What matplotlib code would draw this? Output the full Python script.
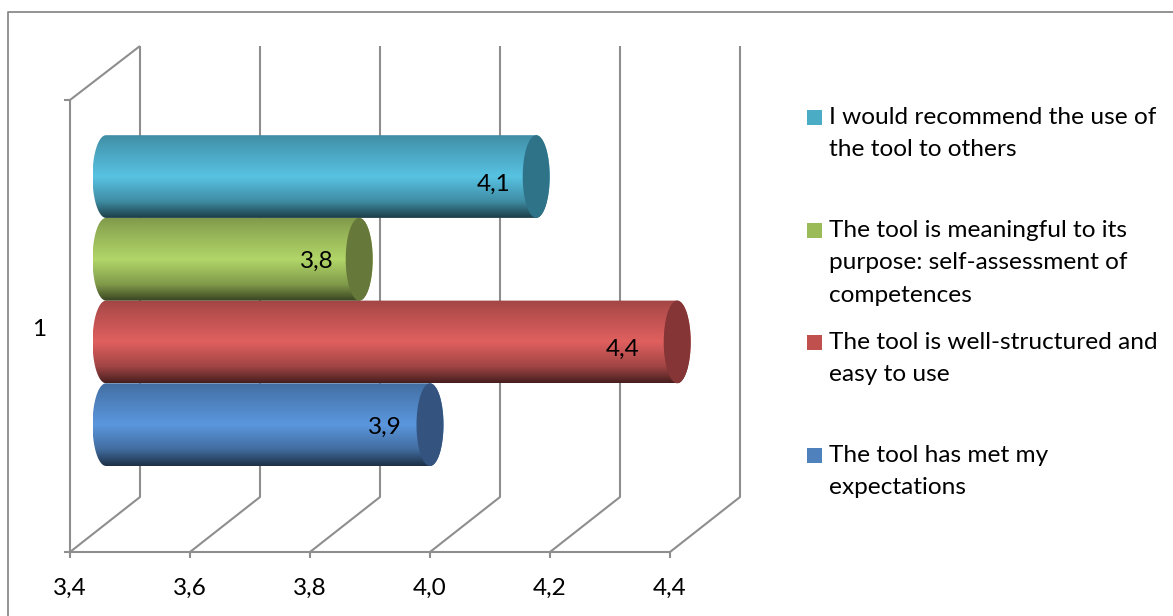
import matplotlib
matplotlib.use('Agg')
import matplotlib.pyplot as plt
import numpy as np
from matplotlib.colors import LinearSegmentedColormap
from matplotlib.patches import Ellipse, Polygon, Rectangle

plt.rcParams['font.family'] = ['Lato', 'DejaVu Sans']

# Data, bottom bar first
series = ['The tool has met my\nexpectations',
          'The tool is well-structured and\neasy to use',
          'The tool is meaningful to its\npurpose: self-assessment of\ncompetences',
          'I would recommend the use of\nthe tool to others']
values = [3.94, 4.352, 3.822, 4.117]
value_labels = ['3,9', '4,4', '3,8', '4,1']
x_ticks = [3.4, 3.6, 3.8, 4.0, 4.2, 4.4]
x_tick_labels = ['3,4', '3,6', '3,8', '4,0', '4,2', '4,4']
category_label = '1'

# Look
body_colors = ['#5b97de', '#e0605f', '#b2d668', '#58c3e3']
cap_colors = ['#34547f', '#853535', '#67793a', '#2f7389']
legend_colors = ['#4f81bd', '#c0504d', '#9bbb59', '#4bacc6']
grid_color = '#8e8e8e'
legend_y = [455, 342, 230, 117]
legend_text_y = [445, 332, 220, 107]
label_shift_x = [-3, -12, 0, 0]
label_shift_y = [3, 7, 2, 8]
font_size = 17.6

fig = plt.figure(figsize=(11.73, 6.16), dpi=100)
ax = fig.add_axes([0, 0, 1, 1])

# axes span the whole figure, so the pixel layout of the original maps onto the scales
px_per_value = 600.0
px_per_slot = 82.7


def set_limits():
    ax.set_xlim(3.4 - 70 / px_per_value, 3.4 + (1173 - 70) / px_per_value)
    ax.set_ylim((466 - 616) / px_per_slot, 466 / px_per_slot)


set_limits()
ax.axis('off')


def xpx(p):
    return 3.4 + (p - 70) / px_per_value


def ypx(p):
    return (466 - p) / px_per_slot


depth_x = 70 / px_per_value
floor_y = ypx(552)
floor_back_y = ypx(497)
wall_front_top = ypx(100)
wall_back_top = ypx(46)
line = dict(color=grid_color, lw=1.5, solid_capstyle='butt', zorder=1)

# walls and floor
for t, label in zip(x_ticks, x_tick_labels):
    ax.plot([t, t + depth_x, t + depth_x], [floor_y, floor_back_y, wall_back_top], **line)
    ax.plot([t, t], [floor_y, ypx(558)], **line)
    ax.text(t, ypx(588), label, ha='center', va='center', fontsize=font_size, color='black')
ax.plot([x_ticks[0], x_ticks[-1]], [floor_y, floor_y], **line)
ax.plot([x_ticks[0], x_ticks[0]], [floor_y, wall_front_top], **line)
ax.plot([x_ticks[0], x_ticks[0] + depth_x], [wall_front_top, wall_back_top], **line)
for p in [100, 552]:
    ax.plot([xpx(64), x_ticks[0]], [ypx(p), ypx(p)], **line)
ax.text(xpx(39), ypx(329), category_label, ha='center', va='center', fontsize=font_size)

# chart frame, only top and left fall inside the picture
ax.plot([xpx(8), xpx(8), xpx(1173)], [ypx(616), ypx(12), ypx(12)],
        color='#8a8a8a', lw=1.3, zorder=1)

# cylinders sit half way into the depth of the floor
rx = 13.5 / px_per_value
ry = 0.5
offset = 36 / px_per_value
angles = np.linspace(np.pi / 2, 3 * np.pi / 2, 40)
for i, v in enumerate(values):
    start = x_ticks[0] + offset
    end = v + offset
    base = np.array(matplotlib.colors.to_rgb(body_colors[i]))
    cmap = LinearSegmentedColormap.from_list('c', [
        (0.0, base * 0.72), (0.12, base * 0.8), (0.5, base),
        (0.8, base * 0.72), (0.95, base * 0.42), (1.0, base * 0.32)])
    grad = np.linspace(0, 1, 128).reshape(-1, 1)
    im = ax.imshow(grad, cmap=cmap, vmin=0, vmax=1, aspect='auto',
                   extent=(start - rx, end + rx, i, i + 1), zorder=2 + i)
    left = np.column_stack([start + rx * np.cos(angles), i + 0.5 + ry * np.sin(angles)])
    right = np.column_stack([end - rx * np.cos(angles), i + 0.5 - ry * np.sin(angles)])
    outline = Polygon(np.vstack([left, right]), closed=True, transform=ax.transData,
                      facecolor='none', edgecolor='none')
    ax.add_patch(outline)
    im.set_clip_path(outline)
    ax.add_patch(Ellipse((end, i + 0.5), 2 * rx, 2 * ry, facecolor=cap_colors[i],
                         edgecolor='none', zorder=2 + i))
    ax.text(end - rx - (12 - label_shift_x[i]) / px_per_value, i + 0.5 - label_shift_y[i] / px_per_slot,
            value_labels[i], ha='right', va='center', fontsize=font_size, color='black', zorder=10)

# imshow changed the limits
set_limits()

# legend
for i, name in enumerate(series):
    ax.add_patch(Rectangle((xpx(807), ypx(legend_y[i] + 7.5)), 15 / px_per_value, 15 / px_per_slot,
                           facecolor=legend_colors[i], edgecolor='none'))
    ax.text(xpx(829), ypx(legend_text_y[i]), name, ha='left', va='top', fontsize=font_size,
            linespacing=1.67, color='black')

fig.savefig('out.png', dpi=100)
